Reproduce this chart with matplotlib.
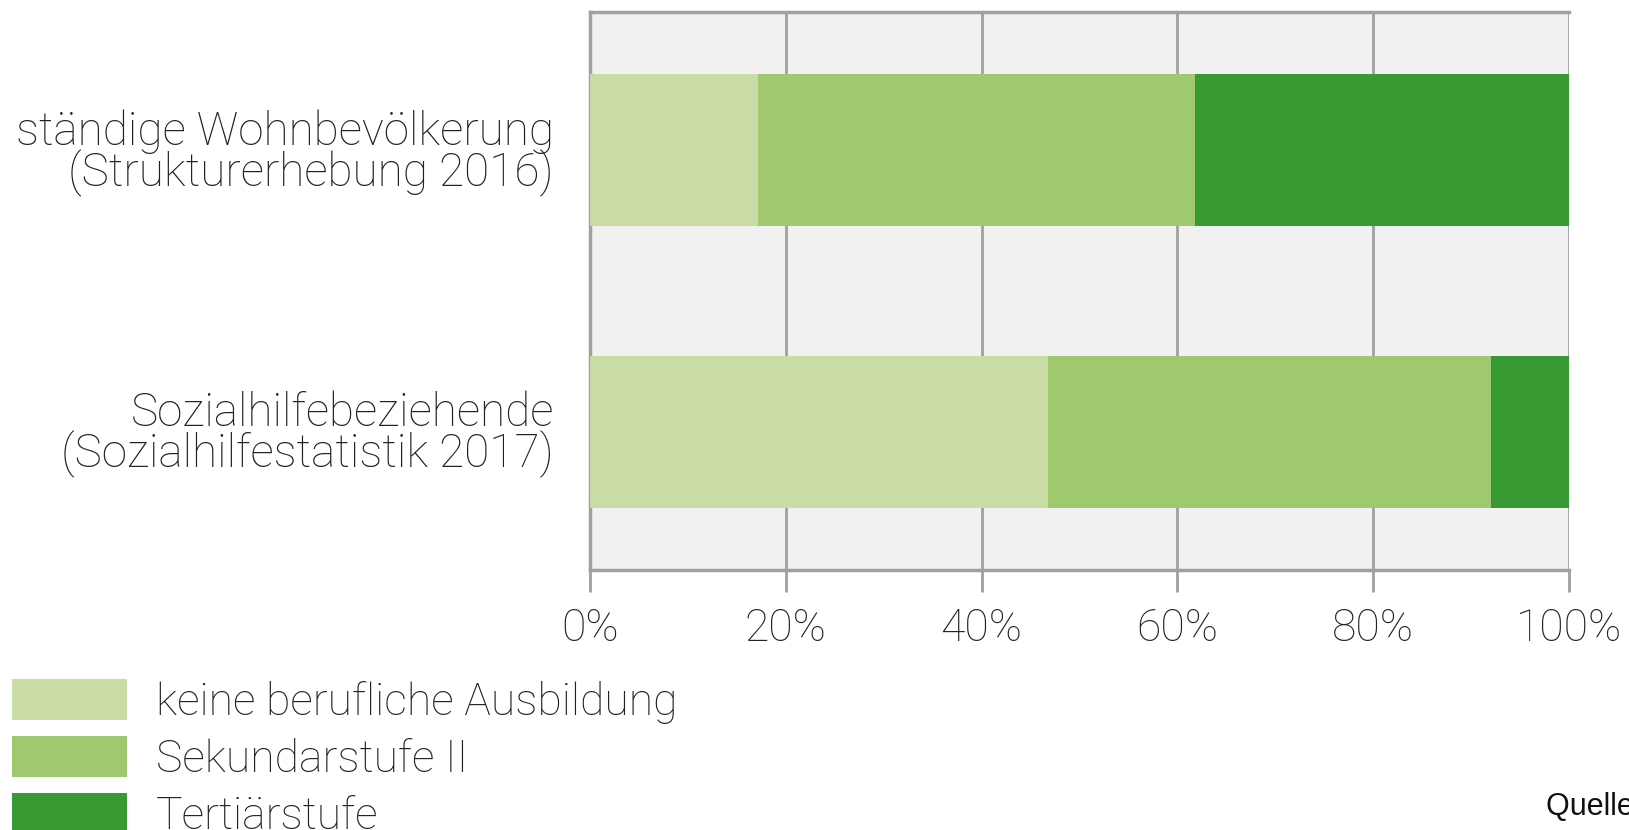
import matplotlib
matplotlib.use("Agg")
import matplotlib.pyplot as plt
from matplotlib.ticker import PercentFormatter

# Education level shares (%) for the two population groups
groups = ["ständige Wohnbevölkerung\n(Strukturerhebung 2016)",
          "Sozialhilfebeziehende\n(Sozialhilfestatistik 2017)"]
levels = ["keine berufliche Ausbildung", "Sekundarstufe II", "Tertiärstufe"]
keine = [17.2, 46.8]
sek2 = [44.6, 45.2]
tert = [38.2, 8.0]
colors = ["#c9dca5", "#a0c86f", "#389a33"]
xticks = [0, 20, 40, 60, 80, 100]

plt.rcParams["font.family"] = ["Roboto", "DejaVu Sans"]
TXT = "#222222"

W, H = 1629, 830
fig = plt.figure(figsize=(W / 100, H / 100), dpi=100)
ax = fig.add_axes([590 / W, 1 - 570 / H, (1569 - 590) / W, (570 - 12) / H])
ax.set_facecolor("#f1f1f1")

ypos = [1, 0]
left = [0, 0]
for vals, lab, col in zip([keine, sek2, tert], levels, colors):
    ax.barh(ypos, vals, left=left, height=0.54, color=col, label=lab,
            zorder=3, linewidth=0)
    left = [l + v for l, v in zip(left, vals)]

ax.set_xlim(0, 100)
ax.set_ylim(-0.49, 1.49)
ax.set_xticks(xticks)
ax.xaxis.set_major_formatter(PercentFormatter(decimals=0))
ax.set_yticks(ypos)
ax.set_yticklabels(groups, linespacing=0.87)
ax.grid(axis="x", color="#a0a0a0", linewidth=2, zorder=1)
ax.grid(axis="y", visible=False)
for s in ax.spines.values():
    s.set_color("#a0a0a0")
    s.set_linewidth(2.5)
ax.spines["right"].set_visible(False)
ax.tick_params(axis="x", length=16, width=2, color="#a0a0a0", pad=11,
               labelsize=32, labelcolor=TXT)
ax.tick_params(axis="y", length=0, pad=26, labelsize=33, labelcolor=TXT)
for t in ax.get_xticklabels() + ax.get_yticklabels():
    t.set_fontweight("light")

fs = 32
leg = fig.legend(loc="upper left", bbox_to_anchor=(12 / W, 1 - 679 / H),
                 frameon=False, fontsize=fs, handlelength=2.59,
                 handleheight=1.04, handletextpad=0.64, labelspacing=0.28,
                 borderpad=0, borderaxespad=0)
for t in leg.get_texts():
    t.set_fontweight("light")
    t.set_color(TXT)

fig.text(1546 / W, 1 - 815 / H, "Quelle: BFS", family="Liberation Sans",
         fontsize=22, color="#111111", ha="left", va="baseline")

fig.savefig("out.png", dpi=100)
